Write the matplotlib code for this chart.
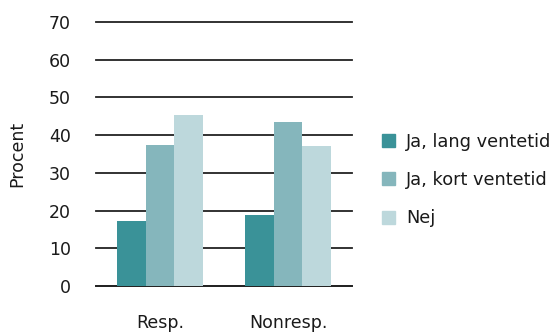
import matplotlib
matplotlib.use("Agg")
import matplotlib.pyplot as plt
import matplotlib.patches as mpatches
import numpy as np

plt.rcParams["font.family"] = ["DejaVu Sans"]

# ── Data ──
categories = ["Resp.", "Nonresp."]
series_names = ["Ja, lang ventetid", "Ja, kort ventetid", "Nej"]
lang = [17.2, 18.8]
kort = [37.4, 43.5]
nej = [45.4, 37.1]
yticks = [0, 10, 20, 30, 40, 50, 60, 70]

COLORS = ["#3A9298", "#85B6BC", "#BDD8DC"]
TEXT = "#1A1A1A"
FS = 12.5

fig = plt.figure(figsize=(5.54, 3.33), dpi=100)
ax = fig.add_axes([96 / 554, 47 / 333, 256 / 554, 264 / 333])

x = np.arange(len(categories))
w = 0.224
for i, (vals, col) in enumerate(zip([lang, kort, nej], COLORS)):
    ax.bar(x + (i - 1) * w, vals, w, color=col, label=series_names[i],
           zorder=3, linewidth=0)

ax.set_xlim(-0.5, 1.5)
ax.set_ylim(0, 70)
ax.set_yticks(yticks)
ax.set_yticklabels([str(t) for t in yticks], fontsize=FS, color=TEXT)
ax.set_xticks(x)
ax.set_xticklabels(categories, fontsize=FS, color=TEXT)
ax.tick_params(axis="x", length=0, pad=20)
ax.tick_params(axis="y", length=0, pad=18)

ax.grid(axis="y", color="#222222", linewidth=1.3, zorder=0)
for gl in ax.get_ygridlines():
    gl.set_clip_on(False)
for s in ["top", "right", "left"]:
    ax.spines[s].set_visible(False)
ax.spines["bottom"].set_color("#222222")
ax.spines["bottom"].set_linewidth(1.3)

ax.set_ylabel("Procent", fontsize=FS, color=TEXT, labelpad=16)

handles = [mpatches.Patch(color=c, label=n) for c, n in zip(COLORS, series_names)]
fig.legend(handles=handles, loc="center left", bbox_to_anchor=(366 / 554, 1 - 180 / 333),
           frameon=False, fontsize=12.8, handlelength=0.75, handleheight=0.75,
           handletextpad=0.6, labelspacing=1.15, labelcolor=TEXT)

fig.savefig("out.png", dpi=100)
